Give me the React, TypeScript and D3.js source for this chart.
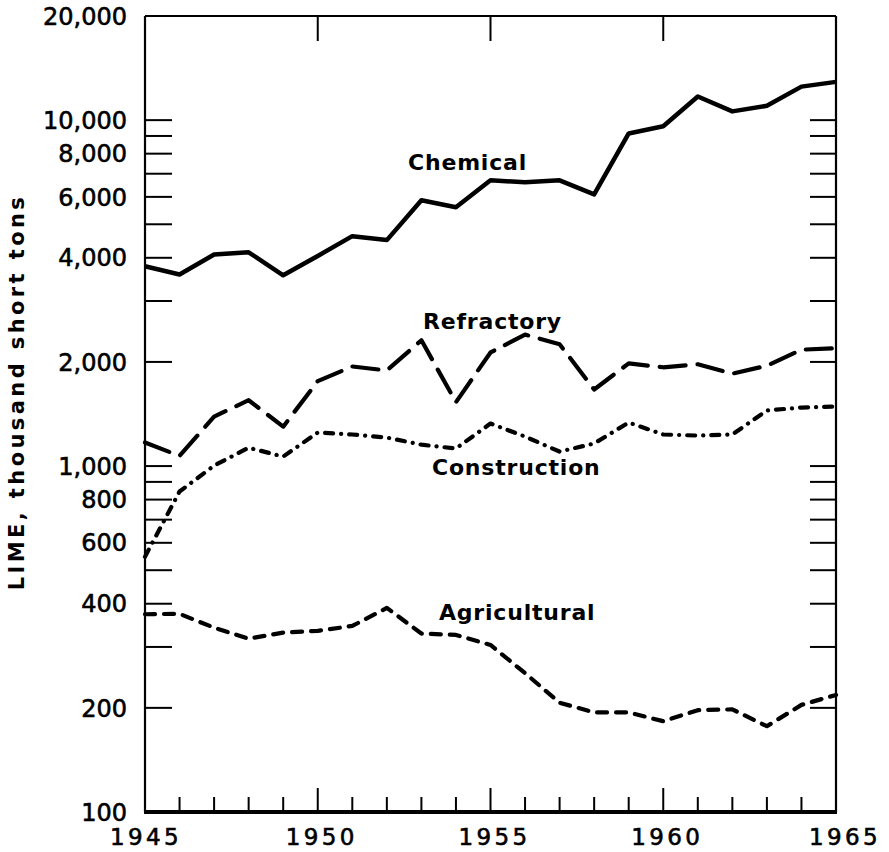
import React from "react";
import * as d3 from "d3";

const years = d3.range(1945, 1966);
const chemical = [3780, 3580, 4090, 4150, 3560, 4050, 4620, 4500, 5870, 5600, 6700, 6610, 6700, 6100, 9150, 9600, 11700, 10600, 11000, 12500, 12900];
const refractory = [1170, 1070, 1390, 1550, 1300, 1760, 1940, 1890, 2310, 1530, 2130, 2400, 2250, 1665, 1980, 1930, 1970, 1850, 1950, 2170, 2190];
const construction = [547, 844, 1003, 1130, 1065, 1250, 1234, 1209, 1153, 1124, 1327, 1217, 1101, 1162, 1336, 1234, 1225, 1234, 1448, 1476, 1486];
const agricultural = [373, 374, 341, 317, 330, 334, 345, 389, 328, 325, 304, 252, 207, 194, 194, 183, 197, 198, 177, 204, 218];

const yTickValues = [10000, 9000, 8000, 7000, 6000, 5000, 4000, 3000, 2000, 1000, 900, 800, 700, 600, 500, 400, 300, 200];
const yLabelValues = [20000, 10000, 8000, 6000, 4000, 2000, 1000, 800, 600, 400, 200, 100];
const xLabelYears = [1945, 1950, 1955, 1960, 1965];
const topTickYears = [1950, 1955, 1960];

const seriesLabels = [
  { text: "Chemical", x: 408, y: 170 },
  { text: "Refractory", x: 423, y: 329 },
  { text: "Construction", x: 432, y: 475 },
  { text: "Agricultural", x: 439, y: 620 },
];

export default function App() {
  const L = 145, R = 836, T = 16, B = 812;
  const x = d3.scaleLinear().domain([1945, 1965]).range([L, R]);
  const y = d3.scaleLog().domain([100, 20000]).range([B, T]);
  const line = d3.line<number>().x((_, i) => x(years[i])).y((d) => y(d));

  const fmt = d3.format(",");
  const series = [
    { data: chemical, dash: undefined, w: 4.5 },
    { data: refractory, dash: "26 12", w: 4.2 },
    { data: construction, dash: "8 8 0.1 8", w: 4.2 },
    { data: agricultural, dash: "10 9", w: 4.2 },
  ];

  return (
    <svg width={889} height={852} style={{ position: "absolute", left: 0, top: 0, background: "#fff" }}>
      <rect x={0} y={0} width={889} height={852} fill="#fff" />
      <line x1={L} y1={T} x2={R} y2={T} stroke="#000" strokeWidth={2} />
      <line x1={L} y1={T} x2={L} y2={B} stroke="#000" strokeWidth={2.2} />
      <line x1={R} y1={T} x2={R} y2={B} stroke="#000" strokeWidth={2.2} />
      <line x1={L - 1} y1={B} x2={R + 1} y2={B} stroke="#000" strokeWidth={4} />
      {yTickValues.map((v) => (
        <g key={v}>
          <line x1={L} x2={L + 27} y1={y(v)} y2={y(v)} stroke="#000" strokeWidth={2} />
          <line x1={R - 26} x2={R} y1={y(v)} y2={y(v)} stroke="#000" strokeWidth={2} />
        </g>
      ))}
      {years.slice(1, -1).map((yr) => (
        <line key={yr} x1={x(yr)} x2={x(yr)} y1={B} y2={B - (yr % 5 === 0 ? 24 : 15)} stroke="#000" strokeWidth={2} />
      ))}
      {topTickYears.map((yr) => (
        <line key={yr} x1={x(yr)} x2={x(yr)} y1={T} y2={T + 25} stroke="#000" strokeWidth={2} />
      ))}
      {yLabelValues.map((v) => (
        <text key={v} x={127} y={y(v)} dy="0.36em" textAnchor="end" fontFamily="DejaVu Sans" fontSize={24} fill="#000" stroke="#000" strokeWidth={0.6}>
          {fmt(v)}
        </text>
      ))}
      {xLabelYears.map((yr) => (
        <text key={yr} x={x(yr) + (yr === 1945 ? 1 : yr === 1965 ? 9 : 4)} y={845} textAnchor="middle" fontFamily="DejaVu Sans" fontSize={23} letterSpacing={3.4} fill="#000" stroke="#000" strokeWidth={0.6}>
          {yr}
        </text>
      ))}
      <text transform="translate(24,392) rotate(-90)" textAnchor="middle" fontFamily="DejaVu Sans" fontWeight="bold" fontSize={21} letterSpacing={3.4} fill="#000">
        LIME, thousand short tons
      </text>
      {series.map((s, i) => (
        <path key={i} d={line(s.data) || ""} fill="none" stroke="#000" strokeWidth={s.w} strokeDasharray={s.dash} strokeLinecap={s.dash ? "round" : "butt"} strokeLinejoin="round" />
      ))}
      {seriesLabels.map((l) => (
        <text key={l.text} x={l.x} y={l.y} fontFamily="DejaVu Sans" fontWeight="bold" fontSize={22} letterSpacing={0.8} fill="#000">
          {l.text}
        </text>
      ))}
    </svg>
  );
}
